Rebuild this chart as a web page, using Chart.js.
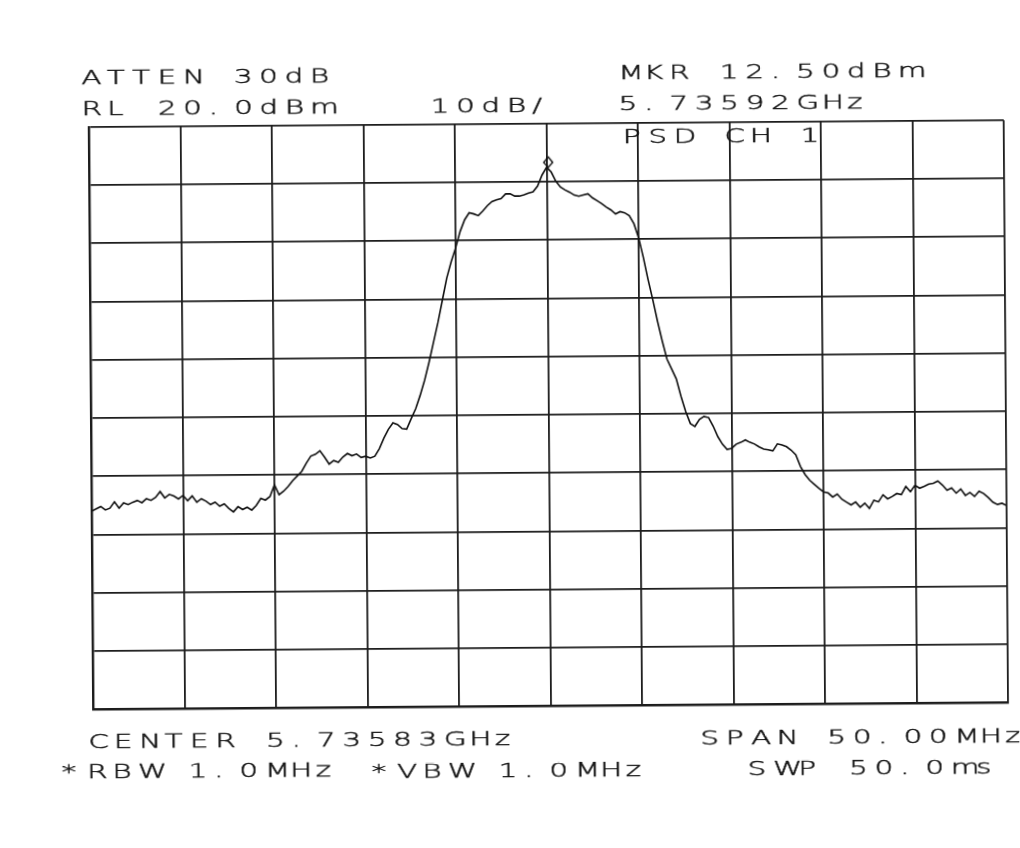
<!DOCTYPE html>
<html>
<head>
<meta charset="utf-8">
<script src="https://cdn.jsdelivr.net/npm/chart.js@4.4.1/dist/chart.umd.min.js"></script>
<style>
html,body{margin:0;padding:0;background:#fff;overflow:hidden;}
#wrap{position:relative;width:1020px;height:848px;transform:rotate(-0.43deg);transform-origin:510px 424px;}
#c{position:absolute;left:0;top:0;}
#txt{position:absolute;left:0;top:0;pointer-events:none;}
#txt text{font-family:"DejaVu Sans",sans-serif;font-weight:200;font-size:19px;fill:#111;stroke:#111;stroke-width:0.45px;}
</style>
</head>
<body>
<div id="wrap">
<canvas id="c" width="1020" height="848"></canvas>
<svg id="txt" width="1020" height="848" xmlns="http://www.w3.org/2000/svg"></svg>
</div>
<script>
// ---- instrument settings (text) ----
const headerLeft = ["ATTEN 30dB", "RL 20.0dBm"];
const scaleText = "10dB/";
const headerRight = ["MKR 12.50dBm", "5.73592GHz", "PSD CH 1"];
const footerLeft = ["CENTER 5.73583GHz", "*RBW 1.0MHz", "*VBW 1.0MHz"];
const footerRight = ["SPAN 50.00MHz", "SWP 50.0ms"];

// ---- axes ----
const refLevel = 20;      // dBm, top of screen
const dbPerDiv = 10;
const divisions = 10;
const spanMHz = 50;       // frequency span, axis shows offset from centre (MHz)

// ---- measured trace (dBm), 201 sweep points across the span ----
const levels = [
-46.0,-45.6,-45.2,-45.8,-45.5,-44.4,-45.5,-44.6,-44.9,-44.5,
-44.2,-44.6,-43.9,-44.2,-43.7,-42.7,-43.8,-43.2,-43.5,-44.0,
-43.4,-44.3,-43.5,-44.6,-44.0,-44.4,-45.0,-44.6,-45.3,-44.9,
-45.7,-46.3,-45.4,-45.9,-45.5,-46.0,-45.2,-44.0,-44.3,-43.7,
-41.7,-43.4,-42.8,-42.0,-41.0,-40.2,-39.4,-38.0,-36.8,-36.5,
-35.9,-37.0,-38.2,-37.6,-37.9,-37.0,-36.4,-36.8,-36.5,-37.1,
-36.9,-37.2,-36.9,-35.6,-33.8,-32.3,-31.2,-31.5,-32.2,-32.3,
-30.5,-28.8,-26.5,-23.9,-20.8,-17.4,-14.0,-10.2,-6.4,-3.6,
-1.2,1.6,3.6,4.8,4.6,4.3,5.1,6.0,6.7,7.0,
7.2,8.0,8.0,7.6,7.6,7.8,8.1,8.3,9.3,11.2,
12.5,11.7,10.1,9.1,8.6,8.2,7.7,7.5,7.7,7.9,
7.2,6.7,6.2,5.6,5.1,4.4,4.8,4.6,4.1,2.7,
0.3,-3.1,-6.9,-10.4,-14.1,-17.5,-20.6,-22.3,-24.0,-27.0,
-29.6,-31.7,-32.2,-31.0,-30.5,-30.7,-32.2,-34.0,-35.3,-36.2,
-36.0,-35.3,-35.0,-34.6,-35.0,-35.3,-35.8,-36.2,-36.3,-36.5,
-35.3,-35.5,-35.8,-36.4,-37.2,-39.2,-40.6,-41.6,-42.3,-43.0,
-43.6,-43.8,-44.5,-44.0,-44.9,-45.4,-45.9,-45.4,-46.3,-45.6,
-46.5,-45.1,-45.4,-44.2,-44.9,-44.5,-44.0,-44.2,-42.8,-43.7,
-42.6,-43.1,-42.8,-42.4,-42.3,-41.9,-42.6,-43.5,-43.1,-44.0,
-43.3,-44.4,-43.9,-44.6,-43.7,-44.1,-44.8,-45.6,-46.0,-45.8,
-46.2
];

// ---- marker ----
const markerOffsetMHz = [0.09];
const markerLevel = [12.5];

// ---- text layout (unrotated page coordinates, baseline) ----
const textLayout = [
  {s: headerLeft[0], x: 84, base: 81},
  {s: headerLeft[1], x: 84, base: 112},
  {s: scaleText, x: 433, base: 112.5},
  {s: headerRight[0], x: 621, base: 80},
  {s: headerRight[1], x: 621, base: 111},
  {s: headerRight[2], x: 625, base: 144},
  {s: footerLeft[0], x: 86, base: 745},
  {s: footerLeft[1], x: 59, base: 775},
  {s: footerLeft[2], x: 369, base: 777},
  {s: footerRight[0], x: 698, base: 746},
  {s: footerRight[1], x: 745, base: 777}
];
const pitch = 25.4;
const stretch = 1.55;

const svgNS = 'http://www.w3.org/2000/svg';
const svg = document.getElementById('txt');
textLayout.forEach(t => {
  const el = document.createElementNS(svgNS, 'text');
  el.setAttribute('transform', 'scale(' + stretch + ' 1)');
  const chars = Array.from(t.s);
  const xs = chars.map((c, k) => ((t.x + k * pitch) / stretch).toFixed(2));
  el.setAttribute('x', xs.join(' '));
  el.setAttribute('y', t.base);
  el.textContent = t.s;
  svg.appendChild(el);
});

// diamond marker drawn above the point (bottom vertex on the trace)
const mk = document.createElement('canvas');
mk.width = 12; mk.height = 24;
(function(){
  const g = mk.getContext('2d');
  g.strokeStyle = '#111'; g.lineWidth = 1.4;
  g.beginPath();
  g.moveTo(6, 1.5); g.lineTo(10.5, 7); g.lineTo(6, 12); g.lineTo(1.5, 7); g.closePath();
  g.stroke();
})();

const tracePts = levels.map((v, i) => ({x: -spanMHz / 2 + i * spanMHz / (levels.length - 1), y: v}));
const markerPts = markerOffsetMHz.map((f, i) => ({x: f, y: markerLevel[i]}));

const gridColor = '#1c1c1c';
new Chart(document.getElementById('c'), {
  type: 'line',
  data: {
    datasets: [
      {data: tracePts, borderColor: '#111', borderWidth: 1.6, pointRadius: 0, tension: 0, fill: false},
      {data: markerPts, showLine: false, pointStyle: mk, pointRadius: 6}
    ]
  },
  options: {
    responsive: false,
    animation: false,
    events: [],
    layout: {padding: {left: 91, top: 124, right: 14, bottom: 142}},
    plugins: {legend: {display: false}, tooltip: {enabled: false}},
    scales: {
      x: {
        type: 'linear', min: -spanMHz / 2, max: spanMHz / 2,
        ticks: {display: false, stepSize: spanMHz / divisions},
        grid: {color: gridColor, lineWidth: 1.8, drawTicks: false},
        border: {display: true, color: gridColor, width: 2.4}
      },
      y: {
        min: refLevel - dbPerDiv * divisions, max: refLevel,
        ticks: {display: false, stepSize: dbPerDiv},
        grid: {color: gridColor, lineWidth: 1.8, drawTicks: false},
        border: {display: true, color: gridColor, width: 2.4}
      }
    }
  }
});
</script>
</body>
</html>
